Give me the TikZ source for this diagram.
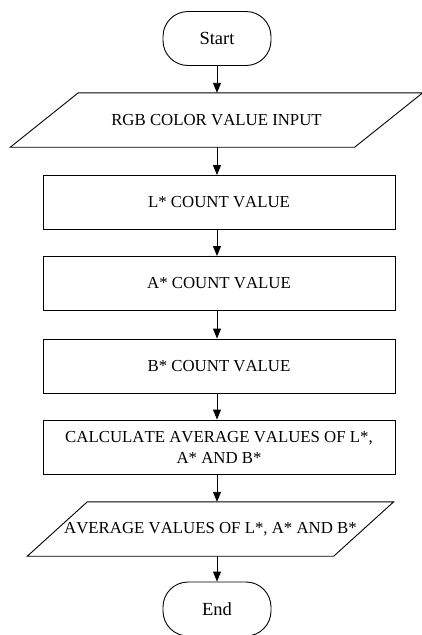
\documentclass[tikz,border=0pt]{standalone}
\usepackage{fontspec}
\setmainfont{Liberation Serif}[Kerning=Off]
\usetikzlibrary{positioning, arrows.meta, shapes.geometric}

\tikzset{
  termbox/.style={draw, line width=0.9pt, rounded corners=25pt, minimum width=108pt,
    minimum height=54pt, font=\fontsize{18.5}{22}\selectfont},
  procbox/.style={draw, line width=0.9pt, minimum width=352pt, minimum height=54pt,
    align=center, inner sep=2pt},
  iobox/.style={minimum height=54pt, inner sep=1pt},
  slant/.style={line width=0.9pt, line join=miter},
  flow/.style={-{Triangle[width=8pt,length=10pt]}, line width=0.9pt},
}

\begin{document}
\begin{tikzpicture}[x=1pt, y=-1pt, font=\fontsize{16.8}{21}\selectfont]
  \useasboundingbox (0,0) rectangle (422,635);

  % terminals, boxes and input/output blocks
  \node[termbox] (start) at (217,38.5) {Start};
  \node[iobox, minimum width=344pt] (input) at (216.5,120) {RGB COLOR VALUE INPUT};
  \node[procbox] (lcount) at (219,202.5) {L* COUNT VALUE};
  \node[procbox] (acount) at (219,283.5) {A* COUNT VALUE};
  \node[procbox] (bcount) at (219,366) {B* COUNT VALUE};
  \node[procbox] (calc) at (219,447) {CALCULATE AVERAGE VALUES OF L*,\\ A* AND B*};
  \node[iobox, minimum width=306pt] (avg) at (210.5,529) {AVERAGE VALUES OF L*, A* AND B*};
  \node[termbox] (stop) at (217,609) {End};

  % parallelogram outlines around the two data blocks
  \draw[slant] ([xshift=34pt]input.north west) -- ([xshift=34pt]input.north east)
    -- ([xshift=-34pt]input.south east) -- ([xshift=-34pt]input.south west) -- cycle;
  \draw[slant] ([xshift=30pt]avg.north west) -- ([xshift=30pt]avg.north east)
    -- ([xshift=-30pt]avg.south east) -- ([xshift=-30pt]avg.south west) -- cycle;

  % arrows down the middle
  \draw[flow] (start) -- (start |- input.north);
  \draw[flow] (input.south -| start) -- (start |- lcount.north);
  \draw[flow] (lcount.south -| start) -- (start |- acount.north);
  \draw[flow] (acount.south -| start) -- (start |- bcount.north);
  \draw[flow] (bcount.south -| start) -- (start |- calc.north);
  \draw[flow] (calc.south -| start) -- (start |- avg.north);
  \draw[flow] (avg.south -| start) -- (stop);
\end{tikzpicture}
\end{document}
